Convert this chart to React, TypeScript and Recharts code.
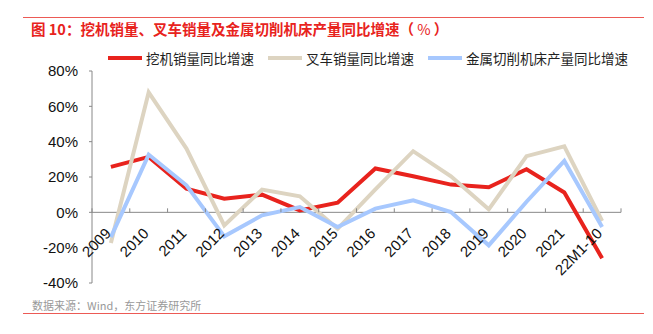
import React from 'react';
import { LineChart, Line, XAxis, YAxis, ReferenceLine, Legend } from 'recharts';

const YEARS = ['2009', '2010', '2011', '2012', '2013', '2014', '2015', '2016', '2017', '2018', '2019', '2020', '2021', '22M1-10'];
const EXCAVATOR = [25.7, 31.4, 13.4, 7.7, 10.0, 1.1, 5.5, 24.8, 20.4, 15.7, 14.2, 24.4, 11.2, -26.0];
const FORKLIFT = [-17.4, 67.9, 36.1, -7.4, 12.9, 9.1, -9.3, 13.0, 34.6, 20.4, 1.7, 31.8, 37.4, -4.9];
const MACHINE_TOOL = [-14.0, 32.7, 15.3, -13.6, -1.7, 3.0, -8.3, 2.1, 6.8, 0.2, -18.7, 6.0, 29.1, -8.3];
const Y_TICKS = [-40, -20, 0, 20, 40, 60, 80];

const SERIES = [
  { key: 'excavator', name: '挖机销量同比增速', color: '#E8231D' },
  { key: 'forklift', name: '叉车销量同比增速', color: '#DDD4C1' },
  { key: 'tool', name: '金属切削机床产量同比增速', color: '#A7C8FE' },
];

const data = YEARS.map((year, i) => ({
  year,
  excavator: EXCAVATOR[i],
  forklift: FORKLIFT[i],
  tool: MACHINE_TOOL[i],
}));

const FONT = '"Liberation Sans", Arial, "Noto Sans CJK SC", sans-serif';
const CJK = '"Noto Sans CJK SC", "Liberation Sans", sans-serif';

const W = 653;
const H = 334;
const MARGIN = { top: 71, right: 32, bottom: 50, left: 0 };
const Y_AXIS_W = 92;
const PLOT_W = W - MARGIN.left - MARGIN.right - Y_AXIS_W;
const PLOT_H = H - MARGIN.top - MARGIN.bottom - 1;
const BAND = PLOT_W / YEARS.length;
const ZERO_Y = MARGIN.top + (PLOT_H * 80) / 120;

// x labels sit under the 0% line, not at the bottom of the plot
const renderXTick = (props: any) => {
  const { x, payload, index } = props;
  const half = BAND / 2;
  const ax = x + 1;
  const ay = ZERO_Y + 22;
  return (
    <g key={`xt-${index}`}>
      <line x1={x - half} x2={x - half} y1={ZERO_Y} y2={ZERO_Y - 4} stroke="#888" />
      {index === YEARS.length - 1 && (
        <line x1={x + half} x2={x + half} y1={ZERO_Y} y2={ZERO_Y - 4} stroke="#888" />
      )}
      <text x={ax} y={ay} textAnchor="end" fontSize={15} fill="#111" fontFamily={FONT}
        transform={`rotate(-45 ${ax} ${ay})`}>
        {payload.value}
      </text>
    </g>
  );
};

const renderLegend = () => (
  <div style={{ display: 'flex', fontFamily: CJK, fontSize: 13.5, color: '#222' }}>
    {SERIES.map((s) => (
      <div key={s.key} style={{ display: 'flex', alignItems: 'center', marginRight: 14 }}>
        <span style={{ width: 34, height: 4, background: s.color, marginRight: 4, display: 'inline-block' }} />
        <span>{s.name}</span>
      </div>
    ))}
  </div>
);

export default function App() {
  return (
    <div style={{ position: 'absolute', left: 0, top: 0, width: W, height: H, background: '#fff' }}>
      <div style={{ position: 'absolute', left: 23, top: 17, width: 621, height: 1, background: '#EC5A55' }} />
      <div style={{ position: 'absolute', left: 31, top: 20, fontFamily: CJK, fontSize: 14.5, fontWeight: 'bold', color: '#E8231D', lineHeight: '18px', whiteSpace: 'nowrap' }}>
        图 10：挖机销量、叉车销量及金属切削机床产量同比增速（<span style={{ fontWeight: 'normal' }}> % </span>）
      </div>
      <LineChart width={W} height={H} data={data} margin={MARGIN}>
        <Legend verticalAlign="middle" align="center" content={renderLegend}
          wrapperStyle={{ position: 'absolute', top: 48, left: 108, width: 540, height: 18 }} />
        <ReferenceLine y={0} stroke="#888" strokeWidth={1} />
        <XAxis dataKey="year" scale="band" height={1} axisLine={false} tickLine={false}
          tick={renderXTick} interval={0} />
        <YAxis width={Y_AXIS_W} domain={[-40, 80]} ticks={Y_TICKS} tickFormatter={(v) => `${v}%`}
          axisLine={{ stroke: '#888' }} tickLine={{ stroke: '#888' }} tickSize={3} tickMargin={11}
          tick={{ fontSize: 15, fill: '#111', fontFamily: FONT }} interval={0} />
        {SERIES.map((s) => (
          <Line key={s.key} dataKey={s.key} name={s.name} stroke={s.color} strokeWidth={4}
            dot={false} activeDot={false} isAnimationActive={false} type="linear" />
        ))}
      </LineChart>
      <div style={{ position: 'absolute', left: 32, top: 297, fontFamily: CJK, fontSize: 11, color: '#999', whiteSpace: 'nowrap' }}>
        数据来源：Wind，东方证券研究所
      </div>
      <div style={{ position: 'absolute', left: 23, top: 313, width: 621, height: 1, background: '#EC5A55' }} />
    </div>
  );
}
